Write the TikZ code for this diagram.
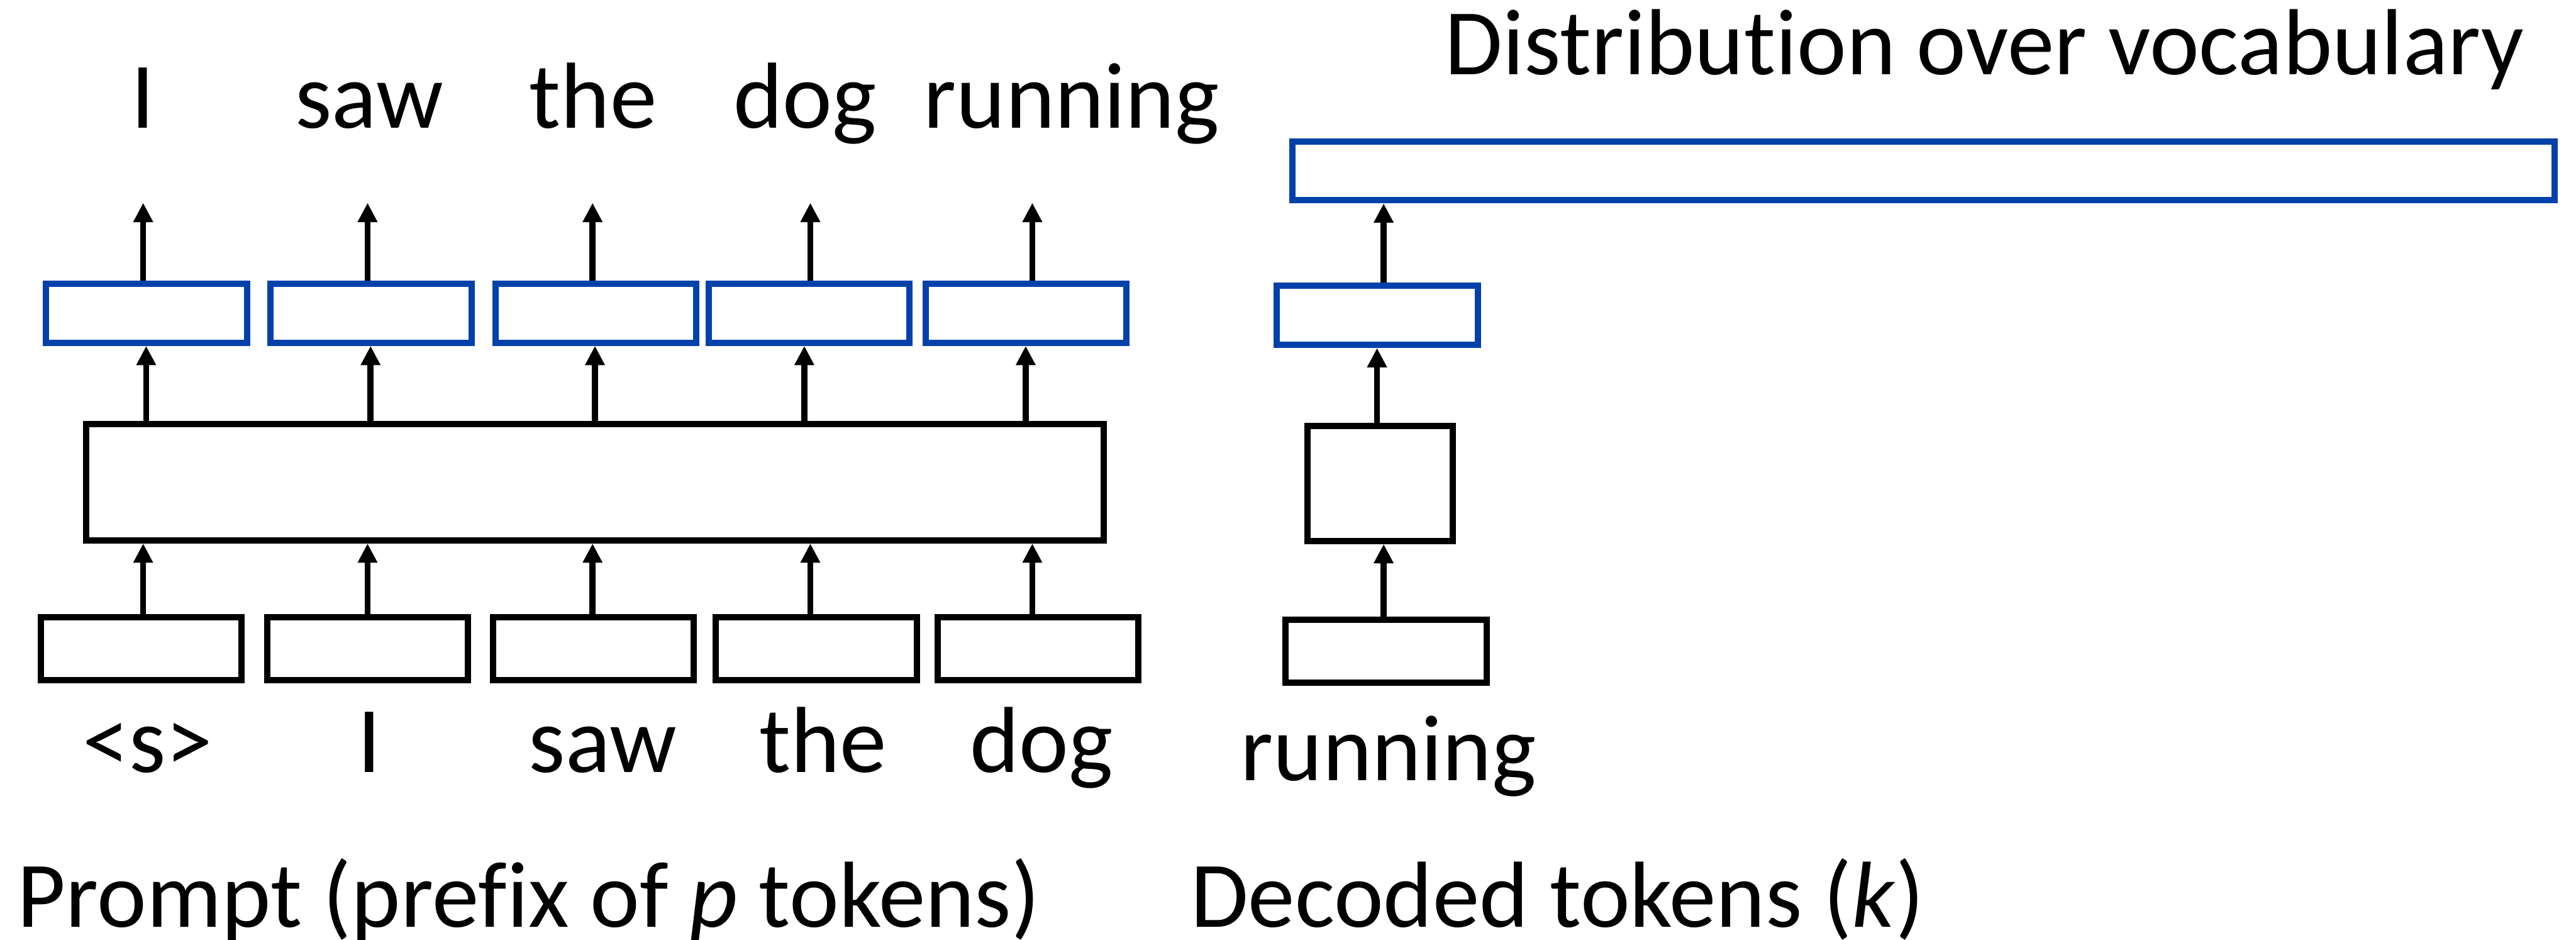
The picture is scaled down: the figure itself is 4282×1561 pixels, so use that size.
\documentclass[tikz,border=0pt]{standalone}
\usepackage{fontspec}
\setmainfont{Carlito}[Ligatures=CommonOff]
\usetikzlibrary{arrows.meta}
\definecolor{vecblue}{RGB}{3,65,170}
\begin{document}
\begin{tikzpicture}[x=0.1pt,y=-0.1pt,
  box/.style={draw=black, line width=1.05pt, rectangle, inner sep=0pt},
  vec/.style={draw=vecblue, line width=1.05pt, rectangle, inner sep=0pt},
  tokbox/.style={box, minimum width=33.4pt, minimum height=10.45pt},
  hidbox/.style={vec, minimum width=33.4pt, minimum height=9.8pt},
  arr/.style={line width=1pt, -{Triangle[width=3.1pt,length=3.2pt]}},
  word/.style={font=\fontsize{15.6pt}{19pt}\selectfont, anchor=base, inner sep=0pt}
]
\useasboundingbox (0,0) rectangle (4282,1561);

% column positions of the arrows
\foreach \i/\x in {1/238,2/611,3/985,4/1347,5/1716}
  \coordinate (ta\i) at (\x,337);
\foreach \i/\x in {1/243,2/616,3/989,4/1337,5/1705}
  \coordinate (ma\i) at (\x,0);

% prompt: input token boxes
\foreach \i/\x in {1/234.5,2/611,3/986.5,4/1357,5/1725.5}
  \node[tokbox] (k\i) at (\x,1077.5) {};

% shared transformer block
\node[box, minimum width=169.15pt, minimum height=19.35pt] (big) at (989,801) {};

% hidden state vectors
\foreach \i/\x in {1/243.5,2/617,3/990.5,4/1345,5/1705.5}
  \node[hidbox] (v\i) at (\x,520.5) {};

% arrows of the prompt columns
\foreach \i in {1,...,5} {
  \draw[arr] (k\i.north -| ta\i) -- (big.south -| ta\i);
  \draw[arr] (big.north -| ma\i) -- (v\i.south -| ma\i);
  \draw[arr] (v\i.north -| ta\i) -- (ta\i);
}

% decoding column
\node[tokbox] (dk) at (2304,1081.5) {};
\node[box, minimum width=24.15pt, minimum height=19.15pt] (db) at (2294,803) {};
\node[hidbox] (dv) at (2289.5,524) {};
\node[vec, minimum width=209.85pt, minimum height=9.75pt] (dist) at (3197.5,284) {};
\coordinate (dc1) at (2300,0);
\coordinate (dc2) at (2289,0);
\draw[arr] (dk.north -| dc1) -- (db.south -| dc1);
\draw[arr] (db.north -| dc2) -- (dv.south -| dc2);
\draw[arr] (dv.north -| dc1) -- (dist.south -| dc1);

% output words
\node[word] (o1) at (238,213) {I};
\node[word] (o2) at (614,213) {saw};
\node[word] (o3) at (986,213) {the};
\node[word] (o4) at (1338,213) {dog};
\node[word] (o5) at (1781,213) {running};

% input words
\node[word] (i1) at (245.5,1283) {<s>};
\node[word] (i2) at (614,1283) {I};
\node[word] (i3) at (1002,1283) {saw};
\node[word] (i4) at (1368,1283) {the};
\node[word] (i5) at (1731,1283) {dog};
\node[word] (i6) at (2308,1297) {running};

% captions
\node[word, anchor=base west] (dlab) at (2400,124) {Distribution over vocabulary};
\node[word, anchor=base west] (plab) at (27,1540) {Prompt (prefix of \textit{p} tokens)};
\node[word, anchor=base west] (klab) at (1977,1540) {Decoded tokens (\textit{k})};
\end{tikzpicture}
\end{document}
